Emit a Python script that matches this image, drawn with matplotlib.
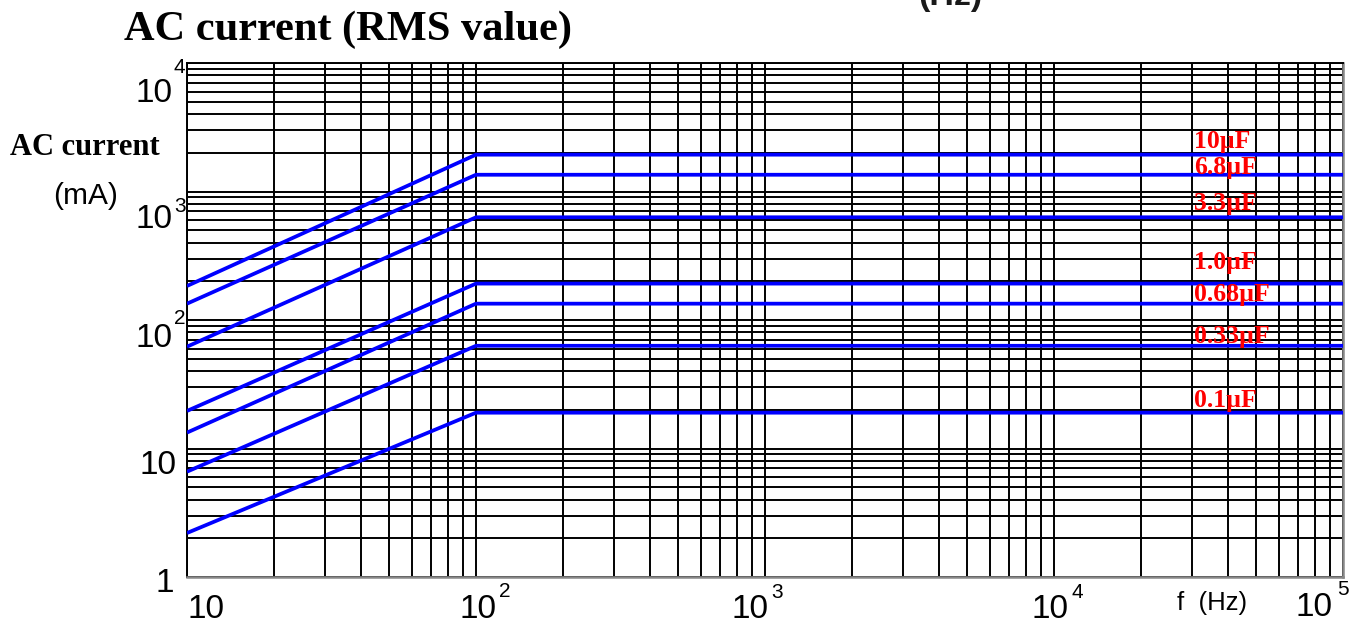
import numpy as np
import matplotlib
matplotlib.use("Agg")
import matplotlib.pyplot as plt
from matplotlib.ticker import LogLocator, NullFormatter

# 資料 (讀圖估計) -------------------------------------------------
cap_labels = ["10µF", "6.8µF", "3.3µF", "1.0µF", "0.68µF", "0.33µF", "0.1µF"]
freq_hz = [10, 100, 100000]            # start / knee / end of each curve
current_10hz = [184, 134, 62, 19.6, 13.3, 6.6, 2.2]     # mA at 10 Hz
current_flat = [1935, 1350, 630, 192, 134, 63, 19.0]    # mA from 100 Hz on

y_tick_vals = [1, 10, 100, 1000, 10000]
y_tick_base = ["1", "10", "10", "10", "10"]
y_tick_exp = ["", "", "2", "3", "4"]
x_tick_vals = [10, 100, 1000, 10000, 100000]
x_tick_base = ["10", "10", "10", "10", "10"]
x_tick_exp = ["", "2", "3", "4", "5"]

# 版面 (pixel offsets, image down = positive) ---------------------
y_base_off = [(-31, 15), (-47, 25), (-51, 27), (-51, 37), (-51, 39)]
y_exp_off = [None, None, (-13, 4), (-13, 21), (-13, 10)]
x_base_off = [(1, 41), (-17, 41), (-34, 41), (-23, 41), (-47, 39)]
x_exp_off = [None, (23, 20), (6, 21), (18, 21), (-6, 18)]
label_dy = [7, 1, 7, 15, 3, 3, 6]
label_freq = 30600

NARROW = ["Liberation Sans Narrow", "Liberation Sans", "DejaVu Sans"]
SANS = ["Liberation Sans", "DejaVu Sans"]
SERIF = ["Liberation Serif", "DejaVu Serif"]

W, H = 1354, 624
fig = plt.figure(figsize=(W / 100, H / 100), dpi=100)
ax = fig.add_axes([187 / W, 1 - 577 / H, (1343 - 187) / W, (577 - 63) / H])

ax.set_xscale("log")
ax.set_yscale("log")
ax.set_xlim(10, 1e5)
ax.set_ylim(1, 1e4)
for axis in (ax.xaxis, ax.yaxis):
    axis.set_major_locator(LogLocator(base=10, numticks=20))
    axis.set_minor_locator(LogLocator(base=10, subs=np.arange(2, 10), numticks=50))
    axis.set_major_formatter(NullFormatter())
    axis.set_minor_formatter(NullFormatter())
ax.tick_params(which="both", length=0)
ax.grid(True, which="both", color="black", linewidth=1.4)
ax.set_axisbelow(True)

for side in ("left", "top"):
    ax.spines[side].set_color("black")
    ax.spines[side].set_linewidth(1.4)
for side in ("right", "bottom"):
    ax.spines[side].set_color("#888888")
    ax.spines[side].set_linewidth(1.8)

# 藍色曲線
for lo, hi in zip(current_10hz, current_flat):
    ax.plot(freq_hz, [lo, hi, hi], color="#0000ff", linewidth=2.7,
            solid_capstyle="butt", zorder=3)

# 紅色標籤
for lab, hi, dy in zip(cap_labels, current_flat, label_dy):
    ax.annotate(lab, xy=(label_freq, hi), xytext=(0, dy), textcoords="offset pixels",
                ha="left", va="baseline", color="red", fontsize=18.5,
                fontweight="bold", family=SERIF, zorder=4)

# 刻度文字
ytr = ax.get_yaxis_transform()
for v, b, e, bo, eo in zip(y_tick_vals, y_tick_base, y_tick_exp, y_base_off, y_exp_off):
    ax.annotate(b, xy=(0, v), xycoords=ytr, xytext=(bo[0], -bo[1]),
                textcoords="offset pixels", ha="left", va="baseline",
                fontsize=24, family=NARROW, annotation_clip=False)
    if e:
        ax.annotate(e, xy=(0, v), xycoords=ytr, xytext=(eo[0], -eo[1]),
                    textcoords="offset pixels", ha="left", va="baseline",
                    fontsize=15, family=NARROW, annotation_clip=False)

xtr = ax.get_xaxis_transform()
for v, b, e, bo, eo in zip(x_tick_vals, x_tick_base, x_tick_exp, x_base_off, x_exp_off):
    ax.annotate(b, xy=(v, 0), xycoords=xtr, xytext=(bo[0], -bo[1]),
                textcoords="offset pixels", ha="left", va="baseline",
                fontsize=24, family=NARROW, annotation_clip=False)
    if e:
        ax.annotate(e, xy=(v, 0), xycoords=xtr, xytext=(eo[0], -eo[1]),
                    textcoords="offset pixels", ha="left", va="baseline",
                    fontsize=15, family=NARROW, annotation_clip=False)

# 標題與軸名
fig.text(124 / W, 1 - 40 / H, "AC current (RMS value)", ha="left", va="baseline",
         fontsize=30.5, fontweight="bold", family=SERIF)
fig.text(918 / W, 1 - 5 / H, "(Hz)", ha="left", va="baseline",
         fontsize=24.5, fontweight="bold", family=SANS, color="#1a1a1a")
fig.text(10 / W, 1 - 155 / H, "AC current", ha="left", va="baseline",
         fontsize=22, fontweight="bold", family=SERIF)
fig.text(53 / W, 1 - 204 / H, "(mA)", ha="left", va="baseline",
         fontsize=21.5, family=SANS)
fig.text(1177 / W, 1 - 610 / H, "f  (Hz)", ha="left", va="baseline",
         fontsize=18.5, family=SANS)

fig.savefig("out.png", dpi=100)
